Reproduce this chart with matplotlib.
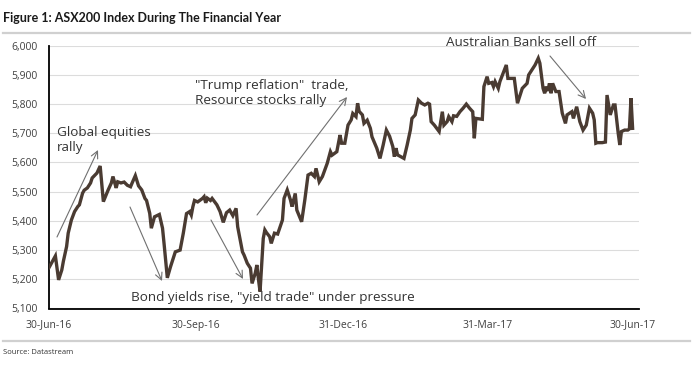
import datetime as dt
import matplotlib
matplotlib.use("Agg")
import matplotlib.pyplot as plt
from matplotlib.lines import Line2D

# ---------------- data ----------------
start_date = "2016-06-30"
day_offsets = [0, 4, 6, 8, 9, 11, 12, 14, 16, 18, 19, 21, 22, 24, 26, 27, 30, 32, 34, 37,
               39, 40, 42, 43, 45, 47, 49, 51, 52, 54, 56, 58, 60, 61, 63, 64, 66, 69, 71, 72,
               74, 76, 79, 82, 84, 86, 88, 89, 90, 91, 93, 96, 97, 98, 99, 101, 102, 105, 107, 109,
               111, 113, 115, 117, 118, 121, 122, 124, 126, 127, 129, 130, 131, 132, 133, 134, 135, 136, 138, 139,
               141, 143, 146, 147, 149, 151, 152, 154, 155, 158, 160, 162, 164, 166, 167, 169, 171, 174, 176, 177,
               180, 182, 183, 185, 187, 189, 190, 192, 193, 194, 196, 197, 199, 201, 202, 205, 207, 209, 211, 213,
               215, 216, 217, 218, 221, 222, 224, 226, 227, 229, 231, 233, 235, 237, 238, 239, 241, 244, 246, 247,
               249, 250, 252, 253, 255, 257, 259, 261, 263, 265, 266, 267, 271, 272, 274, 275, 277, 278, 279, 281,
               282, 284, 286, 287, 290, 291, 293, 296, 299, 300, 302, 304, 306, 307, 309, 310, 311, 312, 313, 314,
               315, 317, 319, 321, 323, 324, 327, 328, 330, 332, 334, 336, 338, 340, 341, 342, 343, 346, 348, 349,
               351, 352, 353, 354, 356, 357, 358, 360, 362, 363, 364, 365]
asx200 = [5240, 5280, 5198, 5232, 5262, 5312, 5358, 5403, 5432, 5449, 5455, 5495, 5505, 5513, 5530, 5547, 5564, 5588, 5466, 5506,
          5530, 5552, 5513, 5534, 5530, 5533, 5522, 5517, 5530, 5555, 5520, 5506, 5477, 5470, 5426, 5375, 5414, 5422, 5375, 5320,
          5205, 5243, 5294, 5300, 5358, 5425, 5432, 5420, 5449, 5470, 5465, 5477, 5483, 5462, 5478, 5470, 5477, 5455, 5432, 5395,
          5428, 5437, 5418, 5443, 5380, 5294, 5283, 5255, 5238, 5186, 5221, 5249, 5200, 5158, 5250, 5340, 5369, 5360, 5346, 5323,
          5358, 5355, 5403, 5477, 5506, 5472, 5449, 5494, 5437, 5397, 5472, 5557, 5563, 5552, 5580, 5534, 5552, 5597, 5637, 5625,
          5637, 5694, 5666, 5666, 5728, 5746, 5768, 5757, 5803, 5775, 5763, 5734, 5745, 5717, 5688, 5649, 5614, 5660, 5711, 5690,
          5655, 5620, 5649, 5626, 5617, 5614, 5660, 5711, 5751, 5763, 5814, 5803, 5797, 5803, 5800, 5740, 5728, 5706, 5774, 5728,
          5740, 5757, 5740, 5760, 5758, 5774, 5786, 5800, 5786, 5774, 5683, 5751, 5748, 5860, 5894, 5871, 5874, 5860, 5877, 5854,
          5877, 5905, 5934, 5888, 5888, 5888, 5803, 5854, 5871, 5900, 5917, 5934, 5957, 5940, 5854, 5837, 5860, 5845, 5871, 5837,
          5871, 5843, 5843, 5769, 5734, 5763, 5774, 5751, 5791, 5740, 5711, 5728, 5786, 5769, 5746, 5666, 5668, 5668, 5670, 5831,
          5763, 5780, 5797, 5797, 5700, 5660, 5706, 5711, 5711, 5715, 5820, 5717]

tick_dates = ["2016-06-30", "2016-09-30", "2016-12-31", "2017-03-31", "2017-06-30"]
tick_labels = ["30-Jun-16", "30-Sep-16", "31-Dec-16", "31-Mar-17", "30-Jun-17"]
y_ticks = [5100, 5200, 5300, 5400, 5500, 5600, 5700, 5800, 5900, 6000]

title = "Figure 1: ASX200 Index During The Financial Year"
source = "Source: Datastream"

# ---------------- figure ----------------
W, H = 700, 383
plt.rcParams["font.family"] = ["Open Sans", "DejaVu Sans"]
fig = plt.figure(figsize=(W / 100, H / 100), dpi=100)

def fx(x):
    return x / W

def fy(y):
    return 1 - y / H

left_px, right_px, top_px, bot_px = 49, 639, 45.7, 308.5
ax = fig.add_axes([fx(left_px), fy(bot_px), fx(right_px) - fx(left_px), fy(top_px) - fy(bot_px)])

d0 = dt.datetime.strptime(start_date, "%Y-%m-%d")
dates = [d0 + dt.timedelta(days=d) for d in day_offsets]
ax.plot(dates, asx200, color="#4a3b32", lw=2.4, solid_joinstyle="miter", zorder=3)

ax.set_ylim(5100, 6000)
ax.set_xlim(d0, d0 + dt.timedelta(days=369))
ax.set_yticks(y_ticks)
ax.set_yticklabels([f"{v:,}" for v in y_ticks])
ax.set_xticks([dt.datetime.strptime(d, "%Y-%m-%d") for d in tick_dates])
ax.set_xticklabels(tick_labels)
ax.tick_params(axis="both", length=0, labelsize=7.5, colors="#404040")
ax.tick_params(axis="x", pad=8)
ax.tick_params(axis="y", pad=8)
ax.grid(axis="y", color="#dcdcdc", lw=0.8, zorder=0)
for s in ["top", "right"]:
    ax.spines[s].set_visible(False)
for s in ["left", "bottom"]:
    ax.spines[s].set_color("#000000")
    ax.spines[s].set_linewidth(1.3)

# title & rules
fig.text(fx(3), fy(18.5), title, fontsize=9.0, fontweight="bold", color="#1a1a1a",
         va="center", ha="left", family=["Lato", "DejaVu Sans"])
fig.add_artist(Line2D([fx(3), fx(690)], [fy(33), fy(33)], color="#d0d0d0", lw=1.6))
fig.add_artist(Line2D([fx(3), fx(690)], [fy(341), fy(341)], color="#d0d0d0", lw=1.6))
fig.text(fx(3), fy(352), source, fontsize=5.5, color="#333333", va="center", ha="left")

# annotations
txt_kw = dict(fontsize=9.7, color="#333333", va="center", ha="left", xycoords="figure fraction")
arrow_kw = dict(arrowstyle="->,head_length=0.5,head_width=0.25", color="#707070", lw=0.8,
                shrinkA=0, shrinkB=0)

ax.annotate("Global equities\nrally", xy=(fx(57), fy(140)), linespacing=1.2, **txt_kw)
ax.annotate("", xy=(fx(98), fy(150)), xytext=(fx(57), fy(237)),
            xycoords="figure fraction", textcoords="figure fraction", arrowprops=arrow_kw)

ax.annotate('Bond yields rise, "yield trade" under pressure', xy=(fx(131), fy(298)), **txt_kw)
ax.annotate("", xy=(fx(162), fy(281)), xytext=(fx(130), fy(207)),
            xycoords="figure fraction", textcoords="figure fraction", arrowprops=arrow_kw)
ax.annotate("", xy=(fx(243), fy(279)), xytext=(fx(211), fy(220)),
            xycoords="figure fraction", textcoords="figure fraction", arrowprops=arrow_kw)

ax.annotate('"Trump reflation"  trade,\nResource stocks rally', xy=(fx(195), fy(93)),
            linespacing=1.2, **txt_kw)
ax.annotate("", xy=(fx(347), fy(97)), xytext=(fx(257), fy(215)),
            xycoords="figure fraction", textcoords="figure fraction", arrowprops=arrow_kw)

ax.annotate("Australian Banks sell off", xy=(fx(446), fy(43)), **txt_kw)
ax.annotate("", xy=(fx(586), fy(99)), xytext=(fx(550), fy(56)),
            xycoords="figure fraction", textcoords="figure fraction", arrowprops=arrow_kw)

fig.savefig("out.png", dpi=100, facecolor="white")
